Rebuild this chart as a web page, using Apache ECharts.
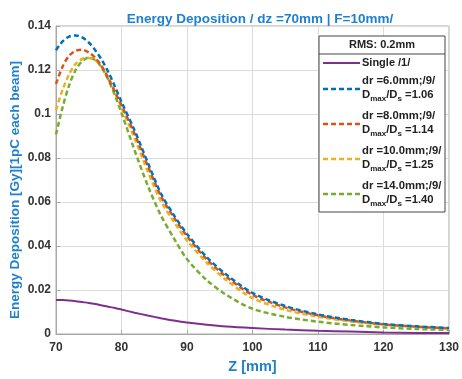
<!DOCTYPE html>
<html>
<head>
<meta charset="utf-8">
<script src="https://cdn.jsdelivr.net/npm/echarts@6/dist/echarts.min.js"></script>
<style>
  html, body { margin: 0; padding: 0; background: #fff; }
  #chart { width: 462px; height: 379px; }
</style>
</head>
<body>
<div id="chart"></div>
<script>
// Depth positions along the beam axis [mm]
const zPos = [70, 71, 72, 73, 74, 75, 76, 77, 78, 79, 80, 82, 84, 86, 88, 90, 93, 96, 100, 105, 110, 115, 120, 125, 130];

// Energy deposition per configuration [Gy], 1 pC per beam
const singleBeam = [0.0155, 0.0154, 0.0152, 0.0149, 0.0145, 0.0141, 0.0136, 0.0130, 0.0124, 0.0118, 0.0111, 0.0097, 0.0084, 0.0072, 0.0061, 0.0052, 0.0042, 0.0034, 0.0027, 0.0020, 0.0015, 0.0011, 0.0007, 0.0005, 0.0004];
const dr6 = [0.1290, 0.1330, 0.1352, 0.1357, 0.1348, 0.1325, 0.1290, 0.1245, 0.1190, 0.1125, 0.1055, 0.0925, 0.0780, 0.0640, 0.0540, 0.0455, 0.0350, 0.0270, 0.0187, 0.0127, 0.0089, 0.0064, 0.0046, 0.0035, 0.0027];
const dr8 = [0.1137, 0.1215, 0.1265, 0.1287, 0.1292, 0.1280, 0.1255, 0.1215, 0.1160, 0.1100, 0.1040, 0.0910, 0.0765, 0.0628, 0.0530, 0.0445, 0.0340, 0.0260, 0.0178, 0.0121, 0.0085, 0.0061, 0.0044, 0.0033, 0.0026];
const dr10 = [0.1018, 0.1110, 0.1180, 0.1228, 0.1250, 0.1255, 0.1245, 0.1215, 0.1165, 0.1100, 0.1030, 0.0890, 0.0740, 0.0605, 0.0510, 0.0425, 0.0325, 0.0245, 0.0163, 0.0110, 0.0079, 0.0057, 0.0042, 0.0032, 0.0025];
const dr14 = [0.0907, 0.1030, 0.1130, 0.1200, 0.1240, 0.1256, 0.1245, 0.1210, 0.1155, 0.1085, 0.1005, 0.0835, 0.0675, 0.0540, 0.0435, 0.0340, 0.0245, 0.0178, 0.0115, 0.0078, 0.0056, 0.0041, 0.0030, 0.0023, 0.0018];

const xTicks = [70, 80, 90, 100, 110, 120, 130];
const yTicks = [0, 0.02, 0.04, 0.06, 0.08, 0.1, 0.12, 0.14];

const seriesNames = ['Single /1/', 'dr =6.0mm;/9/', 'dr =8.0mm;/9/', 'dr =10.0mm;/9/', 'dr =14.0mm;/9/'];
const doseRatios = ['1.06', '1.14', '1.25', '1.40'];
const colors = ['#7E2F8E', '#0072BD', '#D95319', '#EDB120', '#77AC30'];
const seriesData = [singleBeam, dr6, dr8, dr10, dr14];

const BLUE = '#1f80d0';
const FONT = '"Liberation Sans", Arial, sans-serif';

function pairs(vals) { return zPos.map((z, i) => [z, vals[i]]); }

const series = seriesData.map((vals, i) => ({
  name: seriesNames[i],
  type: 'line',
  data: pairs(vals),
  smooth: 0.3,
  showSymbol: false,
  symbol: 'none',
  z: 10 - i,
  lineStyle: {
    color: colors[i],
    width: i === 0 ? 2 : 2.5,
    type: i === 0 ? 'solid' : [5, 3]
  }
}));

// Legend panel with the RMS header
const lgX = 319, lgR = 445, lgTop = 36, lgHead = 54, lgBot = 212;
const legendGraphics = [
  { type: 'rect', shape: { x: lgX, y: lgTop, width: lgR - lgX, height: lgBot - lgTop },
    style: { fill: '#fff', stroke: '#444', lineWidth: 1 }, z: 100 },
  { type: 'line', shape: { x1: lgX, y1: lgHead, x2: lgR, y2: lgHead },
    style: { stroke: '#444', lineWidth: 1 }, z: 101 },
  { type: 'text', x: (lgX + lgR) / 2, y: (lgTop + lgHead) / 2, z: 101,
    style: { text: 'RMS: 0.2mm', font: 'bold 11px ' + FONT, fill: '#222', align: 'center', verticalAlign: 'middle' } }
];
const entryY = [63, 89, 124, 159, 194];
entryY.forEach((yc, i) => {
  legendGraphics.push({
    type: 'line', z: 101,
    shape: { x1: 323, y1: yc, x2: 360, y2: yc },
    style: { stroke: colors[i], lineWidth: i === 0 ? 2 : 2.5, lineDash: i === 0 ? null : [5, 3] }
  });
  if (i === 0) {
    legendGraphics.push({ type: 'text', x: 362, y: yc, z: 101,
      style: { text: seriesNames[0], font: 'bold 11px ' + FONT, fill: '#222', verticalAlign: 'middle' } });
  } else {
    legendGraphics.push({ type: 'text', x: 362, y: yc - 8, z: 101,
      style: { text: seriesNames[i], font: 'bold 11.3px ' + FONT, fill: '#222', verticalAlign: 'middle' } });
    legendGraphics.push({ type: 'text', x: 362, y: yc + 7, z: 101,
      style: {
        text: '{b|D}{s|max}{b|/D}{s|s}{b| =' + doseRatios[i - 1] + '}',
        verticalAlign: 'middle',
        rich: {
          b: { font: 'bold 11.3px ' + FONT, fill: '#222', lineHeight: 14, verticalAlign: 'top' },
          s: { font: 'bold 8px ' + FONT, fill: '#222', lineHeight: 14, verticalAlign: 'bottom', padding: [6, 0, 0, 0] }
        }
      } });
  }
});

const chart = echarts.init(document.getElementById('chart'), null, { renderer: 'canvas' });
chart.setOption({
  animation: false,
  backgroundColor: '#fff',
  color: colors,
  title: {
    text: 'Energy Deposition / dz =70mm | F=10mm/',
    left: 255, top: 7, textAlign: 'center',
    textStyle: { color: BLUE, fontSize: 13.5, fontWeight: 'bold', fontFamily: FONT }
  },
  grid: { left: 56, right: 8, top: 26, bottom: 39, show: true, borderColor: '#a8a8a8', borderWidth: 1 },
  xAxis: {
    type: 'value', min: 70, max: 130, interval: 10,
    name: 'Z [mm]', nameLocation: 'middle', nameGap: 25,
    nameTextStyle: { color: BLUE, fontSize: 14.5, fontWeight: 'bold', fontFamily: FONT },
    axisLine: { show: true, lineStyle: { color: '#a8a8a8' } },
    axisTick: { show: true, inside: true, length: 4, lineStyle: { color: '#a8a8a8' } },
    axisLabel: { color: '#333', fontSize: 12, fontWeight: 'bold', fontFamily: FONT, margin: 8,
      customValues: xTicks },
    splitLine: { show: true, lineStyle: { color: '#dcdcdc', width: 1 } }
  },
  yAxis: {
    type: 'value', min: 0, max: 0.14, interval: 0.02,
    axisLine: { show: true, lineStyle: { color: '#a8a8a8' } },
    axisTick: { show: true, inside: true, length: 4, lineStyle: { color: '#a8a8a8' } },
    axisLabel: { color: '#333', fontSize: 12, fontWeight: 'bold', fontFamily: FONT, margin: 5,
      formatter: v => { const t = yTicks.find(y => Math.abs(y - v) < 1e-9); return t === undefined ? '' : String(t); } },
    splitLine: { show: true, lineStyle: { color: '#dcdcdc', width: 1 } }
  },
  graphic: [
    { type: 'text', x: 15, y: 190, rotation: Math.PI / 2, z: 100,
      style: { text: 'Energy Deposition [Gy][1pC each beam]', font: 'bold 13.5px ' + FONT, fill: BLUE,
        align: 'center', verticalAlign: 'middle' } }
  ].concat(legendGraphics),
  series: series
});
</script>
</body>
</html>
